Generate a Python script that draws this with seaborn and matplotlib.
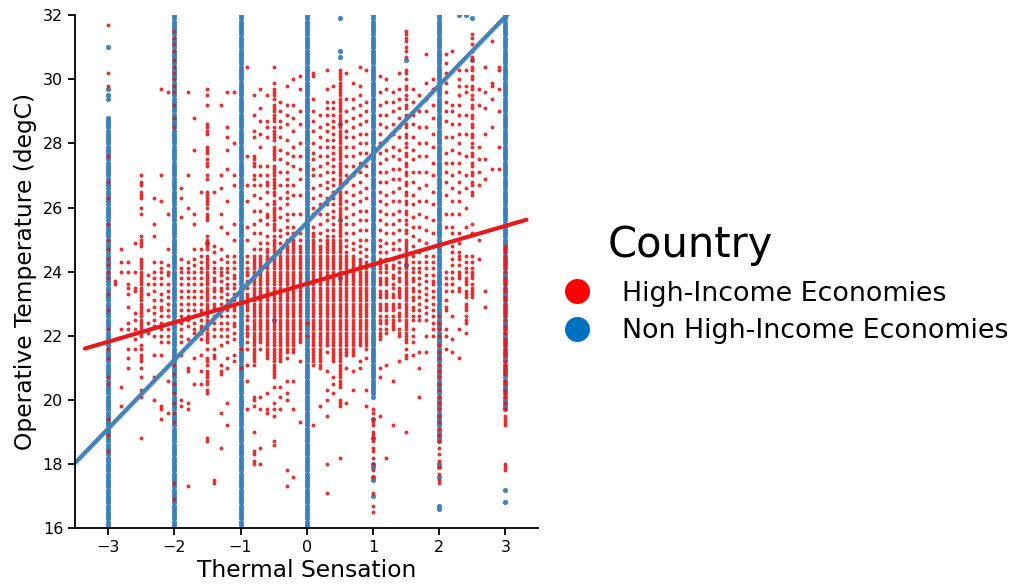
import pandas as pd
import matplotlib
matplotlib.use('Agg')
import matplotlib.pyplot as plt
from matplotlib.lines import Line2D
import seaborn as sns

# thermal sensation votes (x) and operative temperature in tenths of degC
red_x = [-3.0, -2.9, -2.8, -2.7, -2.6, -2.5, -2.4, -2.3, -2.2, -2.1, -2.0, -1.9, -1.8, -1.7, -1.6,
         -1.5, -1.4, -1.3, -1.2, -1.1, -1.0, -0.9, -0.8, -0.7, -0.6, -0.5, -0.4, -0.3, -0.2, -0.1,
         0.0, 0.1, 0.2, 0.3, 0.4, 0.5, 0.6, 0.7, 0.8, 0.9, 1.0, 1.1, 1.2, 1.3, 1.4, 1.5, 1.6, 1.7,
         1.8, 1.9, 2.0, 2.1, 2.2, 2.3, 2.4, 2.5, 2.6, 2.7, 2.8, 2.9, 3.0]
red_t = [
    "317 302 298 276 268 263 255 250 247 244 242 240 238 233 228 222 216 213 207 205 194 189 184",
    "237 236",
    "247 243 240 222 204 198",
    "243 240 236 235 233 229 224 222 216 213 210",
    "249 240 235 234 227 225 222 219 216",
    "270 268 267 265 264 263 260 258 251 250 249 248 244 243 242 241 240 239 238 237 236 235 234 233 232 231 230 229 228 227 226 225 224 223 222 221 220 217 216 214 213 212 210 207 203 201 188",
    "239 236 233 228 224 221",
    "263 255 251 243 240 238 236 234 231 229 227 225 223 220 214 207 200",
    "297 270 262 243 241 240 238 236 233 231 229 228 226 224 222 220 218 214 198 197 194",
    "296 258 247 242 240 239 236 234 232 230 228 226 224 222 220 218 206 196",
    "315 313 311 309 306 304 302 300 298 296 292 288 285 211 208 205 202 199 196 193 174 169",
    "266 263 257 244 241 240 238 236 234 232 230 228 226 224 222 220 218 214 200 198",
    "296 270 260 243 241 240 238 236 234 232 230 228 226 225 223 219 210 209 199 197 173",
    "288 278 258 255 247 244 242 240 238 236 234 232 230 228 226 224 222 221 219 213 205",
    "265 247 245 243 241 240 238 236 234 232 230 228 227 225 223 222 221 219 214 209 205",
    "297 295 292 286 285 284 283 279 278 277 275 274 273 270 269 265 264 263 262 261 260 258 257 256 251 250 249 248 247 245 244 243 242 241 240 239 238 237 236 235 234 233 232 231 230 229 228 227 226 225 224 223 222 221 220 219 218 216 213 212 211 209 208 207 206 205 203 202 188 187",
    "265 248 246 243 241 240 238 237 235 234 232 230 229 228 226 224 222 220 216 214 213 175 174",
    "292 270 266 258 254 247 244 241 240 239 237 235 234 232 230 228 226 224 222 220 217 211 209 208 196 185",
    "296 285 282 278 272 262 252 245 243 241 240 238 236 235 233 231 229 228 226 224 222 220 218 213 210 199 192",
    "296 280 270 267 255 250 245 243 241 239 238 236 235 233 231 229 228 226 224 223 221 219 214 212",
    "216 210",
    "304 276 267 262 254 250 245 243 241 240 239 237 236 235 233 232 230 229 228 226 225 223 222 221 220 218 216 211 206 197",
    "295 289 284 282 276 275 274 273 270 269 267 264 259 255 252 247 245 244 243 242 241 240 239 238 237 236 235 234 233 232 231 230 229 228 227 226 225 224 223 222 221 220 219 218 217 216 215 214 213 212 211 201 200 198 190 184 183 181 180",
    "297 291 287 283 279 273 270 267 263 259 256 252 249 247 245 244 243 242 241 240 239 238 237 236 235 234 233 232 231 230 229 228 227 226 225 224 223 222 221 220 219 218 216 201 197 185 180",
    "295 287 285 282 273 270 268 267 265 261 258 257 255 251 249 247 246 245 244 243 242 241 240 239 238 237 236 235 234 233 232 231 230 229 228 227 226 225 224 223 222 221 220 219 218 217 216 215 214 213 202 197 196",
    "304 299 297 296 295 294 292 291 290 289 288 287 285 284 283 282 281 279 278 277 276 275 273 272 271 270 269 268 267 266 265 264 262 261 260 259 258 257 256 255 254 253 251 250 249 248 247 246 245 244 243 242 241 240 239 238 237 236 235 234 233 232 231 230 229 228 227 226 225 224 223 222 221 220 219 218 217 216 215 214 213 212 211 210 209 208 207 204 199 197 195 187 186",
    "293 290 287 285 282 278 275 271 267 263 260 257 253 251 249 247 246 245 244 243 242 241 240 239 238 237 236 235 234 233 232 231 230 229 228 227 226 225 224 223 222 221 220 219 218 217 216 215 214 213 212 204 201 197",
    "298 292 289 286 281 277 274 271 269 267 265 263 261 258 256 254 252 250 248 247 246 245 244 243 242 241 240 239 238 237 236 235 234 233 232 231 230 229 228 227 226 225 224 223 222 221 220 219 218 217 216 215 213 206 202 200 178 173",
    "300 292 288 284 279 276 273 267 264 258 254 252 250 249 248 247 246 245 244 243 242 241 240 239 238 237 236 235 234 233 232 231 230 229 228 227 226 225 224 223 222 221 220 219 218 217 216 215 206 197 176",
    "301 297 290 286 280 276 272 269 264 258 252 250 248 247 246 245 244 243 242 241 240 239 238 237 236 235 234 233 232 231 230 229 228 227 226 225 224 223 222 221 220 219 218 212 193",
    "224 220",
    "302 301 294 290 287 284 280 277 275 272 270 266 263 260 258 254 252 251 250 249 248 247 246 245 244 243 242 241 240 239 238 237 236 235 234 233 232 231 230 229 228 227 226 225 224 223 222 221 220 219 218 217 216 215 214 213 212 211 192",
    "289 285 282 279 276 273 270 267 264 261 258 255 252 250 248 247 246 245 244 243 242 241 240 239 238 237 236 235 234 233 232 231 230 229 228 227 226 225 224 223 222 221 220 219 218 217 216 215 214 213 212 211 210 198",
    "303 297 293 291 289 286 284 281 279 276 274 271 268 266 263 261 258 256 253 251 250 249 248 247 246 245 244 243 242 241 240 239 238 237 236 235 234 233 232 231 230 229 228 227 226 225 224 223 222 221 220 219 218 217 215 209 203 200 195 180 171",
    "298 293 291 289 287 285 283 281 279 277 275 273 271 269 267 265 263 261 259 257 255 253 251 250 249 248 247 246 245 244 243 242 241 240 239 238 237 236 235 234 233 232 231 230 229 228 227 226 225 224 223 222 221 220 219 218 217 216 215 214 213 212 207 205 202",
    "303 302 301 300 299 298 297 296 295 294 293 292 291 290 289 288 287 286 285 284 283 282 281 280 279 278 277 276 275 274 273 272 271 270 269 268 267 266 265 264 263 262 261 260 259 258 257 256 255 254 253 252 251 250 249 248 247 246 245 244 243 242 241 240 239 238 237 236 235 234 233 232 231 230 229 228 227 226 225 224 223 222 221 220 219 218 217 216 215 214 213 212 211 210 209 208 207 206 205 204 200 199 198 182",
    "302 294 290 287 284 282 279 276 273 270 268 265 262 260 257 255 252 250 248 246 245 244 243 242 241 240 239 238 237 236 235 234 233 232 231 230 229 228 227 226 225 224 223 222 221 220 219 218 217 216 215 214 210 199",
    "299 294 291 288 285 282 279 276 273 270 267 264 261 258 255 252 249 247 245 244 243 242 241 240 239 238 237 236 235 234 233 232 231 230 229 228 227 226 225 224 223 222 221 220 219 218 217 216 215 214 209 203",
    "304 298 295 292 289 286 283 280 277 274 271 268 265 262 259 256 253 250 248 246 244 243 242 241 240 239 238 237 236 235 234 233 232 231 230 229 228 227 226 225 224 223 222 221 220 219 218 217 212 210",
    "303 293 290 287 283 280 277 273 270 266 263 259 256 253 250 247 245 243 242 241 240 239 238 237 236 235 234 233 232 231 230 229 228 227 226 225 224 223 222 221 220 219 218 217 216 213 203 198",
    "197 196 194 193 192 190 189 188 187 185 184 182 180 178 176 171 167 165",
    "301 296 292 289 286 283 280 277 274 271 268 265 262 259 256 253 250 248 246 244 242 241 240 238 237 236 234 233 232 230 229 228 226 225 224 222 221 220 219 210 207 195",
    "300 297 293 289 285 281 278 275 271 268 264 261 258 255 252 249 246 244 242 241 240 238 237 236 234 233 232 230 229 228 226 225 224 222 221 211 182",
    "296 293 290 286 283 279 276 272 269 265 262 258 255 252 249 247 244 242 241 239 238 236 235 233 232 230 229 228 226 225 224 223 222 206 192",
    "302 297 294 291 288 285 282 278 275 272 269 266 262 259 256 253 250 247 245 243 241 240 238 237 235 234 233 232 230 229 227 226 225 222 221 220 212",
    "315 314 313 312 310 309 307 303 302 300 298 297 295 294 292 291 289 288 286 285 283 282 280 279 277 276 274 273 271 270 268 267 265 264 262 261 259 258 256 255 253 252 250 249 248 247 246 245 244 243 242 241 240 239 238 237 236 235 234 233 232 231 230 229 228 227 226 225 224 223 222 221 220 219 218 216 214 213 190",
    "297 293 289 286 282 278 275 271 268 264 261 257 254 251 248 245 243 241 240 238 237 235 234 232 231 229 228 226 225 222 220 218 214",
    "295 290 285 280 276 271 266 262 258 254 250 246 243 241 240 238 236 234 232 230 228 226 225 215 210 201",
    "308 299 294 290 285 280 276 271 267 262 257 253 249 245 243 241 239 237 235 233 231 229 227 225 220 215",
    "300 297 292 288 283 279 274 270 265 261 256 252 248 245 243 241 239 237 236 234 232 230 228 226 224 222 220",
    "226 224 222 220 217 215 213 211 209 207 205 203 201 199 197 195 193 191 189 187 185 183 181 179 177 175 174",
    "308 305 302 299 296 293 290 287 282 277 274 271 268 264 258 254 240 238 236 234 231 229 228 222 220 216",
    "309 292 290 286 282 278 274 270 266 262 258 254 252 248 246 244 242 240 238 236 234 226 219 215",
    "305 303 300 298 295 292 289 286 283 280 277 274 271 268 265 262 258 252 249 246 245 244 242 240 239 238 235 234 222 213",
    "303 298 296 289 283 276 270 266 260 254 245 243 241 240 238 237 236 234 233 232 230 229 228 226 225 224 221",
    "314 313 311 309 307 306 304 303 301 300 298 297 295 294 292 291 289 288 286 285 283 282 280 279 277 276 274 273 271 270 268 267 265 264 255 252 245 243 241 240 239 238 236 235 234 233 232",
    "297 292 279 275 271 267 250 244",
    "304 296 291 283 275 269 234 229",
    "312 299 298 294 285 272",
    "304 303 297 290 279 272",
    "248 247 246 245 244 243 242 241 240 238 237 236 235 234 232 231 230 229 228 227 226 225 223 222 221 219 218 217 216 215 214 212 211 210 209 208 206 205 203 202 201 199 197 195 194 193 192 180 179 178",
]

# recorded temperature levels (tenths of degC); the blue vote columns are filled at every level
temp_levels = ("160 161 162 163 164 165 166 167 168 169 170 171 172 173 174 175 176 177 178 179 "
               "180 181 182 183 184 185 186 187 188 189 190 191 192 193 194 195 196 197 198 199 "
               "200 201 202 203 204 205 206 207 208 209 210 211 212 213 214 215 216 217 218 219 "
               "220 221 222 223 224 225 226 227 228 229 230 231 232 233 234 235 236 237 238 239 "
               "240 241 242 243 244 245 246 247 248 249 250 251 252 253 254 255 256 257 258 259 "
               "260 261 262 263 264 265 266 267 268 269 270 271 272 273 274 275 276 277 278 279 "
               "280 281 282 283 284 285 286 287 288 289 290 291 292 293 294 295 296 297 298 299 "
               "300 301 302 303 304 305 306 307 308 309 310 311 312 313 314 315 316 317 318 319 320")
blue_x = [-3, -2, -1, 0, 1, 2, 3]
blue_lo = [160, 160, 160, 160, 201, 187, 197]
blue_hi = [288, 320, 320, 320, 320, 320, 320]
blue_extra_x = [-3, -3, -3, -3, 1, 1, 1, 1, 1, 1, 1, 2, 2, 2, 2, 2, 3, 3,
                0.5, 0.5, 0.5, 0.5, 0.5, 2.5, 2.3, 2.4, -1.5, 1.5, 1.5, -0.5, 2.5, 0.5]
blue_extra_t = [294, 295, 297, 310, 194, 188, 180, 179, 176, 175, 170, 180, 179, 176, 167, 166, 172, 168,
                319, 309, 307, 256, 238, 319, 320, 320, 249, 306, 242, 225, 306, 286]

# fitted lines, end points
red_line_x = [-3.35, 3.32]
red_line_y = [21.6, 25.62]
blue_line_x = [-3.5, 3.5]
blue_line_y = [18.03, 33.03]

groups = ['High-Income Economies', 'Non High-Income Economies']


def build_frames():
    rx, rt = [], []
    for x, s in zip(red_x, red_t):
        for v in s.split():
            rx.append(x)
            rt.append(int(v) / 10)
    levels = [int(v) for v in temp_levels.split()]
    bx, bt = [], []
    for x, lo, hi in zip(blue_x, blue_lo, blue_hi):
        for v in levels:
            if lo <= v <= hi:
                bx.append(x)
                bt.append(v / 10)
    bx += blue_extra_x
    bt += [v / 10 for v in blue_extra_t]
    red = pd.DataFrame({'Thermal Sensation': rx, 'Temp': rt})
    blue = pd.DataFrame({'Thermal Sensation': bx, 'Temp': bt})
    return red, blue


def plot():
    sns.set_theme(style='ticks', rc={'axes.edgecolor': 'black', 'xtick.color': 'black',
                                     'ytick.color': 'black', 'text.color': 'black',
                                     'axes.labelcolor': 'black', 'axes.linewidth': 1.3})
    plt.rcParams['font.family'] = ['DejaVu Sans']
    pal = sns.color_palette('Set1')
    red, blue = build_frames()

    fig = plt.figure(figsize=(10.14, 5.87), dpi=100)
    ax = fig.add_axes([0.074, 0.1005, 0.457, 0.8735])

    sns.scatterplot(data=blue, x='Thermal Sensation', y='Temp', color=pal[1], s=14,
                    linewidth=0, alpha=0.95, ax=ax)
    sns.scatterplot(data=red, x='Thermal Sensation', y='Temp', color=pal[0], s=8,
                    linewidth=0, alpha=0.9, ax=ax)
    ax.fill_between(blue_line_x, [blue_line_y[0] - 0.12, blue_line_y[1] - 0.12],
                    [blue_line_y[0] + 0.12, blue_line_y[1] + 0.12], color=pal[1], alpha=0.2, lw=0)
    sns.lineplot(x=blue_line_x, y=blue_line_y, color='#4682b4', lw=3, ax=ax)
    sns.lineplot(x=red_line_x, y=red_line_y, color='#e41a1c', lw=3, ax=ax)

    ax.set_xlim(-3.5, 3.5)
    ax.set_ylim(16, 32)
    ax.set_xticks([-3, -2, -1, 0, 1, 2, 3])
    ax.set_yticks([16, 18, 20, 22, 24, 26, 28, 30, 32])
    ax.tick_params(labelsize=11.5, length=5, width=1.3)
    ax.set_xlabel('Thermal Sensation', fontsize=16.8, labelpad=3)
    ax.set_ylabel('Operative Temperature (degC)', fontsize=16.8, labelpad=4)
    sns.despine(ax=ax)

    handles = [Line2D([], [], marker='o', linestyle='', markersize=17, color='#ff0000'),
               Line2D([], [], marker='o', linestyle='', markersize=17, color='#0070c0')]
    fig.legend(handles, groups, loc='upper left', bbox_to_anchor=(0.556, 0.522),
               frameon=False, fontsize=19.4, handlelength=1.0, handletextpad=1.15,
               labelspacing=0.44, borderpad=0, borderaxespad=0)
    fig.text(0.599, 0.563, 'Country', fontsize=30)

    fig.savefig('out.png', dpi=100)


if __name__ == "__main__":
    plot()
